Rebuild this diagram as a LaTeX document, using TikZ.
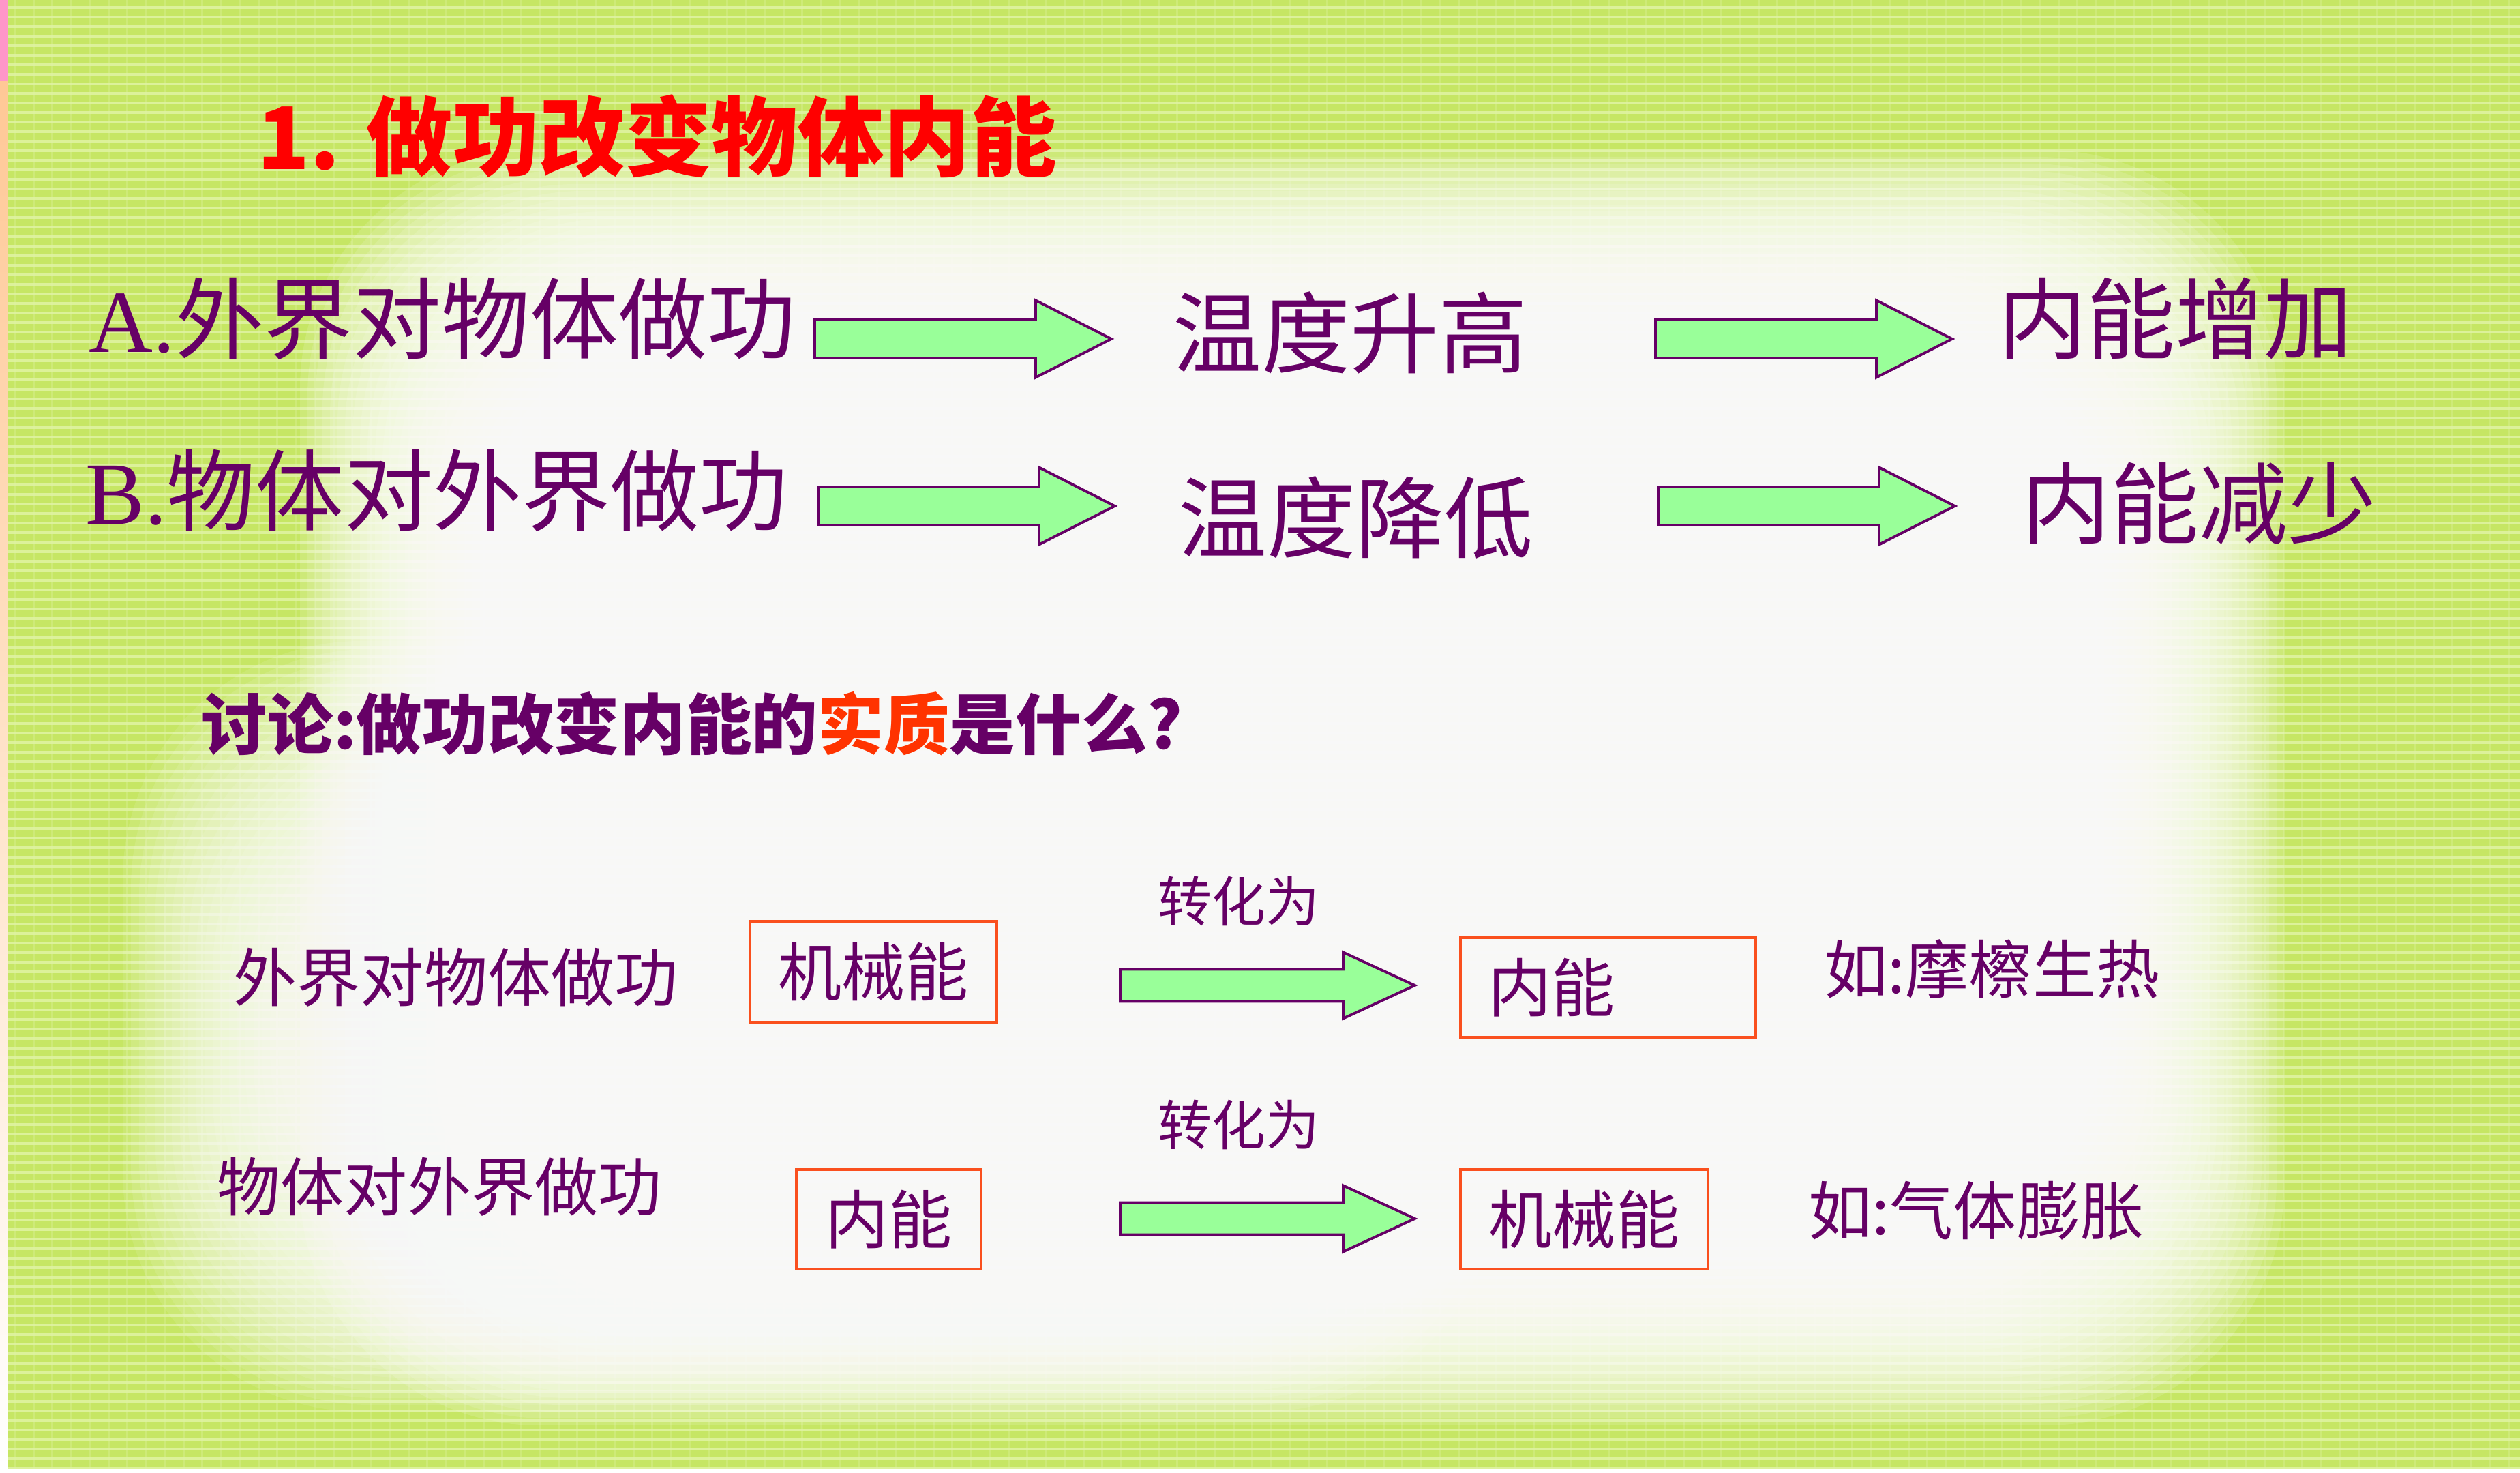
\documentclass[tikz,border=0pt]{standalone}
\usepackage{fontspec}
\setmainfont{Noto Sans CJK SC}
\newfontfamily\latinserif{Liberation Serif}
\definecolor{plum}{RGB}{102,0,102}
\definecolor{titlered}{RGB}{255,0,0}
\definecolor{keyred}{RGB}{255,51,0}
\definecolor{boxred}{RGB}{250,80,30}
\definecolor{arrowgreen}{RGB}{153,255,153}
\definecolor{bggreen}{RGB}{198,230,100}
\definecolor{bgstripe}{RGB}{226,244,168}
\definecolor{edgepink}{RGB}{255,150,200}
\definecolor{edgepeach}{RGB}{255,200,150}
\newcommand{\fatarrow}[5]{%
  \draw[fatarrow] (#1) ++(0,#4) -- ++({#2-#3},0) -- ++(0,{#5-#4}) -- ++(#3,{-#5})
    -- ++(-#3,{-#5}) -- ++(0,{#5-#4}) -- ++({-(#2-#3)},0) -- cycle;}

\begin{document}
\begin{tikzpicture}[
  big/.style={text=plum,inner sep=0pt,anchor=west,font=\fontsize{37}{41}\selectfont},
  small/.style={text=plum,inner sep=0pt,anchor=west,font=\fontsize{26.5}{30}\selectfont},
  ebox/.style={draw=boxred,line width=1.1pt,text=plum,inner sep=0pt,
    minimum height=1.46cm,font=\fontsize{26.5}{30}\selectfont},
  fatarrow/.style={draw=plum,fill=arrowgreen,line width=1.1pt,line join=miter},
  haze/.style={white,opacity=0.13,rounded corners=3.5cm}]
  \useasboundingbox (0,0) rectangle (36.96,21.6);
  \fill[bggreen] (0,0) rectangle (36.96,21.6);
  \foreach \y in {0.05,0.19,...,21.6}
    \fill[bgstripe,opacity=0.8] (0,\y) rectangle (36.96,\y+0.04);
  \foreach \x in {0.2,0.475,...,36.96}
    \fill[bgstripe,opacity=0.3] (\x,0) rectangle (\x+0.03,21.6);
  \foreach \i in {0,...,24}
    \fill[haze] (4.4+0.11*\i,0.7+0.1*\i) rectangle (33.5-0.11*\i,19.4-0.1*\i);
  \foreach \i in {0,...,19}
    \fill[haze,opacity=0.1] (1.8+0.12*\i,0.9+0.1*\i) rectangle (22-0.12*\i,12.2-0.12*\i);
  \fill[edgepink] (0,20.4) rectangle (0.12,21.6);
  \shade[top color=edgepeach,bottom color=white] (0,0) rectangle (0.12,20.4);
  \fill[white] (0,0) rectangle (36.96,0.06);

  \node[big,text=titlered,font=\fontsize{36}{40}\selectfont\bfseries] (title) at (3.77,19.60) {1. 做功改变物体内能};

  \node[big] (rowA) at (1.30,16.93) {{\latinserif A.}外界对物体做功};
  \node[big] (tempUp) at (17.20,16.72) {温度升高};
  \node[big] (ieUp) at (29.30,16.93) {内能增加};
  \node[big] (rowB) at (1.25,14.41) {{\latinserif B.}物体对外界做功};
  \node[big] (tempDown) at (17.28,14.01) {温度降低};
  \node[big] (ieDown) at (29.65,14.22) {内能减少};
  \coordinate (arA1) at (11.95,16.63);
  \coordinate (arA2) at (24.28,16.63);
  \coordinate (arB1) at (12.00,14.18);
  \coordinate (arB2) at (24.32,14.18);
  \fatarrow{arA1}{4.35}{1.11}{0.28}{0.565}
  \fatarrow{arA2}{4.35}{1.11}{0.28}{0.565}
  \fatarrow{arB1}{4.35}{1.11}{0.28}{0.565}
  \fatarrow{arB2}{4.35}{1.11}{0.28}{0.565}

  \node[small,font=\fontsize{27.5}{31}\selectfont\bfseries] (ask) at (2.95,10.99)
    {讨论:做功改变内能的\textcolor{keyred}{实质}是什么?};

  \node[small] (rowC) at (3.42,7.27) {外界对物体做功};
  \node[ebox,minimum width=3.62cm,minimum height=1.48cm] (mechC) at (12.81,7.35) {机械能};
  \node[small,anchor=center,font=\fontsize{22.5}{26}\selectfont] (convC) at (18.17,8.38) {转化为};
  \coordinate (arC) at (16.43,7.15);
  \fatarrow{arC}{4.32}{1.05}{0.235}{0.485}
  \node[ebox,minimum width=4.33cm,text width=3.53cm,inner xsep=0.4cm,align=left] (innerC) at (23.585,7.12) {内能};
  \node[small] (exC) at (26.75,7.39) {如:摩檫生热};

  \node[small] (rowD) at (3.18,4.20) {物体对外界做功};
  \node[ebox,minimum width=2.71cm] (innerD) at (13.035,3.72) {内能};
  \node[small,anchor=center,font=\fontsize{22.5}{26}\selectfont] (convD) at (18.17,5.10) {转化为};
  \coordinate (arD) at (16.43,3.73);
  \fatarrow{arD}{4.32}{1.05}{0.235}{0.485}
  \node[ebox,minimum width=3.63cm] (mechD) at (23.235,3.72) {机械能};
  \node[small] (exD) at (26.52,3.85) {如:气体膨胀};
\end{tikzpicture}
\end{document}
